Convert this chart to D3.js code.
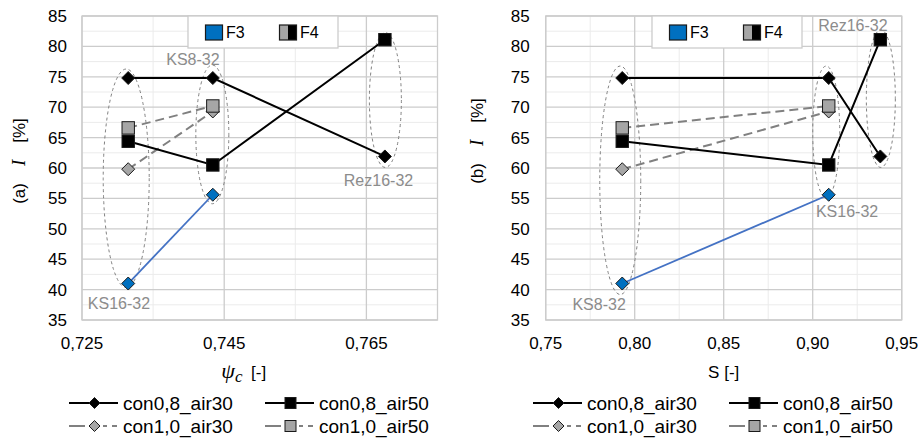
<!DOCTYPE html>
<html><head><meta charset="utf-8">
<script src="https://cdn.jsdelivr.net/npm/d3@7"></script>
<style>
body{margin:0;background:#fff;}
svg{display:block;font-family:"Liberation Sans",Arial,sans-serif;}
</style></head>
<body><svg id="c" width="923" height="439"></svg>
<script>
// ---------- data ----------
const seriesNames = ["con0,8_air30", "con0,8_air50", "con1,0_air30", "con1,0_air50"];
const xPsi = [0.7315, 0.7434, 0.7676];     // chart (a) x values
const xS   = [0.793, 0.909, 0.938];        // chart (b) x values
const con08_air30 = [74.8, 74.8, 61.9];
const con08_air50 = [64.4, 60.5, 81.1];
const con10_air30 = [59.8, 69.3, null];
const con10_air50 = [66.6, 70.2, null];
const f3Values    = [41.0, 55.6, null];
const yTicks = [35, 40, 45, 50, 55, 60, 65, 70, 75, 80, 85];
const xTicksA = [0.725, 0.745, 0.765];
const xTicksB = [0.75, 0.80, 0.85, 0.90, 0.95];
const labelsA = [
  {text: "KS8-32", x: 0.7406, y: 77.8},
  {text: "Rez16-32", x: 0.7667, y: 58.0},
  {text: "KS16-32", x: 0.7302, y: 37.8}
];
const labelsB = [
  {text: "Rez16-32", x: 0.9226, y: 83.4},
  {text: "KS16-32", x: 0.9193, y: 52.9},
  {text: "KS8-32", x: 0.780, y: 37.6}
];

// ---------- styles ----------
const seriesStyle = [
  {stroke: "#000", dash: null, marker: "diamond", fill: "#000"},
  {stroke: "#000", dash: null, marker: "square", fill: "#000"},
  {stroke: "#808080", dash: "9,5", marker: "diamond", fill: "#a6a6a6"},
  {stroke: "#808080", dash: "9,5", marker: "square", fill: "#a6a6a6"}
];
const svg = d3.select("#c");

function marker(g, type, x, y, fill, s) {
  if (type === "diamond") {
    const h = s || 6.5;
    g.append("path").attr("d", `M${x},${y-h}L${x+h},${y}L${x},${y+h}L${x-h},${y}Z`)
      .attr("fill", fill).attr("stroke", "#1a1a1a").attr("stroke-width", 1);
  } else {
    const h = s || 6.2;
    g.append("rect").attr("x", x-h).attr("y", y-h).attr("width", 2*h).attr("height", 2*h)
      .attr("fill", fill).attr("stroke", "#1a1a1a").attr("stroke-width", 1);
  }
}

function chart(opt) {
  const g = svg.append("g");
  const x = d3.scaleLinear().domain(opt.xDomain).range([opt.left, opt.right]);
  const y = d3.scaleLinear().domain([35, 85]).range([opt.bottom, opt.top]);

  // minor grid
  const minorY = d3.range(37.5, 85, 5);
  g.selectAll(".my").data(minorY).join("line")
    .attr("x1", opt.left).attr("x2", opt.right).attr("y1", d => y(d)).attr("y2", d => y(d))
    .attr("stroke", "#ebebeb").attr("stroke-width", 1);
  g.selectAll(".mx").data(opt.minorX).join("line")
    .attr("y1", opt.top).attr("y2", opt.bottom).attr("x1", d => x(d)).attr("x2", d => x(d))
    .attr("stroke", "#ebebeb").attr("stroke-width", 1);
  // major grid
  g.selectAll(".gy").data(yTicks).join("line")
    .attr("x1", opt.left).attr("x2", opt.right).attr("y1", d => y(d)).attr("y2", d => y(d))
    .attr("stroke", "#cccccc").attr("stroke-width", 1.3);
  g.selectAll(".gx").data(opt.xTicks).join("line")
    .attr("y1", opt.top).attr("y2", opt.bottom).attr("x1", d => x(d)).attr("x2", d => x(d))
    .attr("stroke", "#cccccc").attr("stroke-width", 1.3);
  g.append("rect").attr("x", opt.left).attr("y", opt.top)
    .attr("width", opt.right - opt.left).attr("height", opt.bottom - opt.top)
    .attr("fill", "none").attr("stroke", "#cccccc").attr("stroke-width", 1.3);

  // tick labels
  g.selectAll(".yl").data(yTicks).join("text")
    .attr("x", opt.left - opt.yLabelGap).attr("y", d => y(d)).attr("dy", "0.35em")
    .attr("text-anchor", "end").attr("font-size", 17).attr("fill", "#000").text(d => d);
  g.selectAll(".xl").data(opt.xTicks).join("text")
    .attr("x", d => x(d)).attr("y", opt.bottom + 23).attr("dy", "0.35em")
    .attr("text-anchor", "middle").attr("font-size", 17).attr("fill", "#000")
    .text(d => opt.fmt(d).replace(".", ","));

  // ellipses around groups
  const all = [con08_air30, con08_air50, con10_air30, con10_air50, f3Values];
  opt.xs.forEach((xv, i) => {
    const vals = all.map(s => s[i]).filter(v => v != null);
    const top = y(d3.max(vals)) - opt.ell[i][1];
    const bot = y(d3.min(vals)) + opt.ell[i][2];
    g.append("ellipse").attr("cx", x(xv) + opt.ell[i][3]).attr("cy", (top + bot) / 2)
      .attr("rx", opt.ell[i][0]).attr("ry", (bot - top) / 2)
      .attr("fill", "none").attr("stroke", "#808080").attr("stroke-width", 1)
      .attr("stroke-dasharray", "3,3");
  });

  // group labels
  g.selectAll(".lab").data(opt.labels).join("text")
    .attr("x", d => x(d.x)).attr("y", d => y(d.y)).attr("dy", "0.35em")
    .attr("text-anchor", "middle").attr("font-size", 16).attr("fill", "#8c8c8c").text(d => d.text);

  // F3 line
  const line = d3.line().defined(d => d[1] != null).x(d => x(d[0])).y(d => y(d[1]));
  const f3pts = opt.xs.map((xv, i) => [xv, f3Values[i]]);
  g.append("path").attr("d", line(f3pts)).attr("fill", "none")
    .attr("stroke", "#4472c4").attr("stroke-width", 1.8);

  const series = [con08_air30, con08_air50, con10_air30, con10_air50];
  [2, 3, 0, 1].forEach(si => {
    const pts = opt.xs.map((xv, i) => [xv, series[si][i]]);
    const st = seriesStyle[si];
    g.append("path").attr("d", line(pts)).attr("fill", "none")
      .attr("stroke", st.stroke).attr("stroke-width", 2)
      .attr("stroke-dasharray", st.dash);
  });
  [2, 3, 0, 1].forEach(si => {
    const st = seriesStyle[si];
    opt.xs.forEach((xv, i) => {
      const v = series[si][i];
      if (v != null) marker(g, st.marker, x(xv), y(v), st.fill);
    });
  });
  f3pts.forEach(p => { if (p[1] != null) marker(g, "diamond", x(p[0]), y(p[1]), "#0070c0"); });

  // top legend box (F3 / F4)
  const lb = g.append("g").attr("transform", `translate(${opt.boxX},${opt.top})`);
  lb.append("rect").attr("x", 0).attr("y", 0).attr("width", 150).attr("height", 32)
    .attr("fill", "#fff").attr("stroke", "#cccccc").attr("stroke-width", 1.3);
  lb.append("rect").attr("x", 17.5).attr("y", 9).attr("width", 17).attr("height", 15)
    .attr("fill", "#0070c0").attr("stroke", "#1a1a1a").attr("stroke-width", 1.2);
  lb.append("text").attr("x", 38).attr("y", 16.5).attr("dy", "0.35em").attr("font-size", 16).text("F3");
  lb.append("rect").attr("x", 91.5).attr("y", 9).attr("width", 8.5).attr("height", 15).attr("fill", "#a6a6a6");
  lb.append("rect").attr("x", 100).attr("y", 9).attr("width", 8.5).attr("height", 15).attr("fill", "#000");
  lb.append("rect").attr("x", 91.5).attr("y", 9).attr("width", 17).attr("height", 15)
    .attr("fill", "none").attr("stroke", "#1a1a1a").attr("stroke-width", 1.2);
  lb.append("text").attr("x", 112).attr("y", 16.5).attr("dy", "0.35em").attr("font-size", 16).text("F4");

  // y title
  const yt = g.append("text").attr("transform", `translate(${opt.yTitleX},${opt.yTitleY}) rotate(-90)`)
    .attr("text-anchor", "middle").attr("font-size", 17).attr("dy", "0.35em");
  yt.append("tspan").text(opt.tag + "\u2002\u2002");
  yt.append("tspan").attr("font-family", "'Liberation Serif','DejaVu Serif',serif")
    .attr("font-style", "italic").attr("font-size", 19).text("I");
  yt.append("tspan").text("\u2002\u2002[%]");

  // x title
  const cx = (opt.left + opt.right) / 2;
  const xt = g.append("text").attr("x", cx + opt.xTitleDx).attr("y", 372).attr("dy", "0.35em")
    .attr("text-anchor", "middle").attr("font-size", 17);
  opt.xTitle(xt);

  // bottom legend
  const lg = g.append("g");
  seriesNames.forEach((name, si) => {
    const col = si % 2, row = Math.floor(si / 2);
    const lx = opt.legX + col * 196, ly = 403 + row * 23;
    const st = seriesStyle[si];
    const ln = lg.append("line").attr("x1", lx).attr("x2", lx + 49).attr("y1", ly).attr("y2", ly)
      .attr("stroke", st.stroke).attr("stroke-width", 2);
    if (st.dash) ln.attr("stroke-dasharray", "16,18,4,5,5,20");
    marker(lg, st.marker, lx + 25.5, ly, st.fill, 5.5);
    lg.append("text").attr("x", lx + 54).attr("y", ly).attr("dy", "0.35em")
      .attr("font-size", 19).attr("fill", "#000").text(name);
  });
}

chart({
  left: 82, right: 437.5, top: 16, bottom: 320,
  xDomain: [0.725, 0.775], xTicks: xTicksA, minorX: [0.735, 0.755],
  fmt: d3.format(".3f"), xs: xPsi, labels: labelsA, yLabelGap: 15,
  ell: [[23, 9, 4, -2], [16.5, 13, 9, -0.5], [16, 7, 11, 0.5]],
  boxX: 188, tag: "(a)", yTitleX: 19, yTitleY: 161, xTitleDx: -16,
  xTitle: t => {
    t.append("tspan").attr("font-family", "'Liberation Serif','DejaVu Serif',serif")
      .attr("font-style", "italic").attr("font-size", 22).text("\u03c8");
    t.append("tspan").attr("font-family", "'Liberation Serif','DejaVu Serif',serif")
      .attr("font-style", "italic").attr("font-size", 17).attr("dy", "0.25em").text("c");
    t.append("tspan").attr("dy", "-0.25em").text("\u2002[-]");
  },
  legX: 69
});
chart({
  left: 545.7, right: 901.7, top: 16, bottom: 320,
  xDomain: [0.75, 0.95], xTicks: xTicksB, minorX: [0.775, 0.825, 0.875, 0.925],
  fmt: d3.format(".2f"), xs: xS, labels: labelsB, yLabelGap: 16,
  ell: [[20.5, 12, 11, -2], [13.5, 12, 3, -2.5], [14.5, 10, 11, 0.5]],
  boxX: 652, tag: "(b)", yTitleX: 477, yTitleY: 141, xTitleDx: 0,
  xTitle: t => { t.text("S [-]"); },
  legX: 533
});
</script>
</body></html>
